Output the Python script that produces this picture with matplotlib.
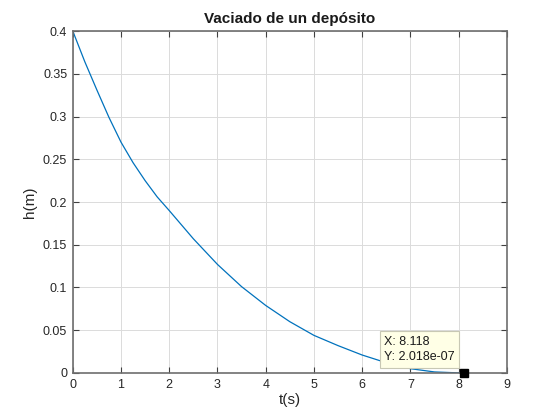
import matplotlib
matplotlib.use("Agg")
import matplotlib.pyplot as plt

# Tank draining: height (m) at each time (s)
t_s = [0, 0.25, 0.5, 0.75, 1.0, 1.25, 1.5, 1.75, 2.0, 2.5, 3.0, 3.5, 4.0,
       4.5, 5.0, 5.5, 6.0, 6.5, 7.0, 7.5, 8.0, 8.118]
h_m = [0.4, 0.364, 0.331, 0.299, 0.27, 0.246, 0.225, 0.206, 0.19, 0.157,
       0.127, 0.101, 0.079, 0.06, 0.044, 0.032, 0.021, 0.012, 0.005,
       0.0012, 0.0001, 2.018e-7]

tip_x = 8.118
tip_y = 2.018e-7

x_ticks = list(range(0, 10))
y_ticks = [0, 0.05, 0.1, 0.15, 0.2, 0.25, 0.3, 0.35, 0.4]
y_labels = ["0", "0.05", "0.1", "0.15", "0.2", "0.25", "0.3", "0.35", "0.4"]

plt.rcParams["font.family"] = ["Liberation Sans", "DejaVu Sans"]
axis_col = "#6e6e6e"

fig = plt.figure(figsize=(5.6, 4.2), dpi=100)
ax = fig.add_axes([0.13, 0.112, 0.775, 0.814])

ax.plot(t_s, h_m, color="#0072BD", lw=0.9)

ax.set_xlim(0, 9)
ax.set_ylim(0, 0.4)
ax.set_xticks(x_ticks)
ax.set_yticks(y_ticks)
ax.set_yticklabels(y_labels)
ax.grid(True, color="#DBDBDB", lw=0.7)
ax.set_axisbelow(True)
for sp in ax.spines.values():
    sp.set_color(axis_col)
    sp.set_linewidth(1.2)
ax.tick_params(direction="in", top=True, right=True, length=4,
               color="#404040", labelsize=9, labelcolor="#262626", pad=4)

ax.set_title("Vaciado de un depósito", fontsize=11, fontweight="bold",
             color="#1a1a1a", pad=6)
ax.set_xlabel("t(s)", fontsize=11, color="#262626", labelpad=2)
ax.set_ylabel("h(m)", fontsize=11, color="#262626", labelpad=4)

# data tip
ax.plot([tip_x], [tip_y], marker="s", color="black", ms=6, clip_on=False,
        zorder=5)
ax.annotate(f"X: {tip_x}\nY: {tip_y:.3e}", xy=(tip_x, tip_y),
            xytext=(-7, 7), textcoords="offset points", ha="right",
            va="bottom", multialignment="left", fontsize=9,
            color="#1a1a1a", linespacing=1.4,
            bbox=dict(boxstyle="square,pad=0.35", fc="#FFFFE6",
                      ec="#C8C8B4", lw=0.8),
            zorder=6)

fig.savefig("out.png", dpi=100)
